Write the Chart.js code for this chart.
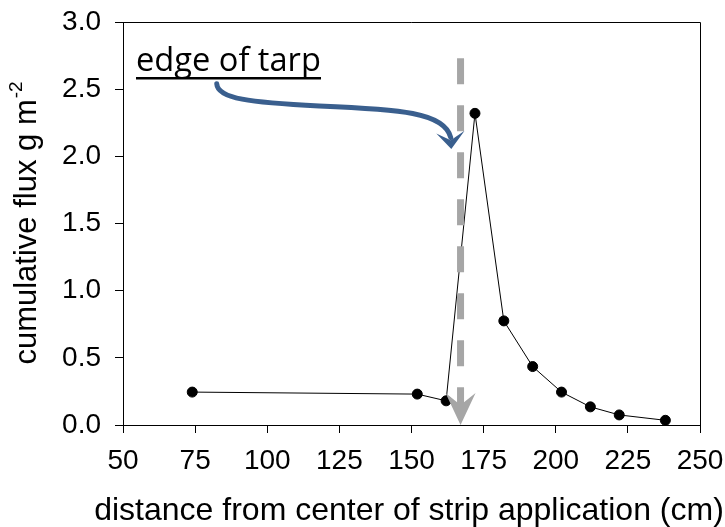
<!DOCTYPE html>
<html>
<head>
<meta charset="utf-8">
<script src="https://cdn.jsdelivr.net/npm/chart.js@4/dist/chart.umd.min.js"></script>
<style>
  html, body { margin: 0; padding: 0; background: #fff; }
  #wrap { width: 725px; height: 527px; position: relative; }
</style>
</head>
<body>
<div id="wrap"><canvas id="chart"></canvas></div>
<script>
// Data
const distances = [74, 152, 162, 172, 182, 192, 202, 212, 222, 238];
const fluxValues = [0.245, 0.23, 0.18, 2.32, 0.775, 0.435, 0.245, 0.135, 0.075, 0.035];
const xTicks = [50, 75, 100, 125, 150, 175, 200, 225, 250];
const yTicks = [0, 0.5, 1.0, 1.5, 2.0, 2.5, 3.0];

// Annotation anchors (data units)
const tarpEdge = 167;
const tarpLineTop = 2.73;
const labelText = 'edge of tarp';
const xTitle = 'distance from center of strip application (cm)';
const yTitle = 'cumulative flux g m';
const yTitleSup = '-2';

const FONT = '"Liberation Sans", Arial, sans-serif';

// Annotation plugin: box, axis titles, dashed tarp line, curved label arrow
const annotate = {
  id: 'annotate',
  afterDraw(chart) {
    const { ctx, chartArea: a, scales: { x, y } } = chart;
    const px = v => x.getPixelForValue(v);
    const py = v => y.getPixelForValue(v);
    ctx.save();

    // top and right border
    ctx.strokeStyle = '#000';
    ctx.lineWidth = 1;
    ctx.beginPath();
    ctx.moveTo(a.left, a.top + 0.5);
    ctx.lineTo(a.right + 0.5, a.top + 0.5);
    ctx.lineTo(a.right + 0.5, a.bottom);
    ctx.stroke();

    // gray dashed line with arrowhead
    const gx = px(tarpEdge);
    const headTop = a.bottom - 32;
    ctx.strokeStyle = '#a6a6a6';
    ctx.lineWidth = 7;
    ctx.setLineDash([26, 21]);
    ctx.beginPath();
    ctx.moveTo(gx, py(tarpLineTop));
    ctx.lineTo(gx, headTop + 12);
    ctx.stroke();
    ctx.setLineDash([]);
    ctx.fillStyle = '#a6a6a6';
    ctx.beginPath();
    ctx.moveTo(gx - 15, headTop);
    ctx.lineTo(gx, a.bottom);
    ctx.lineTo(gx + 15, headTop);
    ctx.lineTo(gx, headTop + 12);
    ctx.closePath();
    ctx.fill();

    // blue curved arrow
    ctx.strokeStyle = '#3a5f8e';
    ctx.fillStyle = '#3a5f8e';
    ctx.lineWidth = 5;
    ctx.lineCap = 'round';
    ctx.beginPath();
    ctx.moveTo(px(82.5), py(2.54));
    ctx.bezierCurveTo(px(82.8), py(2.43), px(93.9), py(2.40), px(118), py(2.375));
    ctx.bezierCurveTo(px(145.7), py(2.35), px(161.5), py(2.33), px(163.6), py(2.14));
    ctx.stroke();
    ctx.beginPath();
    ctx.moveTo(px(158.6), py(2.17));
    ctx.lineTo(px(163.8), py(2.055));
    ctx.lineTo(px(168.4), py(2.19));
    ctx.lineTo(px(163.6), py(2.12));
    ctx.closePath();
    ctx.fill();

    // label with underline, fitted to ~185px wide
    let size = 32;
    ctx.font = size + 'px "Open Sans", sans-serif';
    const w = ctx.measureText(labelText).width;
    size = size * 185 / w;
    ctx.font = size + 'px "Open Sans", sans-serif';
    ctx.fillStyle = '#000';
    ctx.textAlign = 'left';
    ctx.textBaseline = 'alphabetic';
    const lx = 136, ly = 71;
    ctx.fillText(labelText, lx, ly);
    ctx.fillRect(lx, ly + 6, 185, 2.5);

    // x title
    ctx.font = '32px ' + FONT;
    ctx.textAlign = 'center';
    ctx.fillText(xTitle, 409, 520);

    // y title, rotated, with superscript
    ctx.translate(36, (a.top + a.bottom) / 2);
    ctx.rotate(-Math.PI / 2);
    ctx.font = '31px ' + FONT;
    const mw = ctx.measureText(yTitle).width;
    ctx.font = '19px ' + FONT;
    const sw = ctx.measureText(yTitleSup).width;
    const start = -(mw + sw) / 2;
    ctx.textAlign = 'left';
    ctx.font = '31px ' + FONT;
    ctx.fillText(yTitle, start, 0);
    ctx.font = '19px ' + FONT;
    ctx.fillText(yTitleSup, start + mw + 1, -14);

    ctx.restore();
  }
};

new Chart(document.getElementById('chart'), {
  type: 'scatter',
  data: {
    datasets: [{
      data: distances.map((d, i) => ({ x: d, y: fluxValues[i] })),
      showLine: true,
      borderColor: '#000',
      borderWidth: 1,
      backgroundColor: '#000',
      pointRadius: 5,
      pointHoverRadius: 5,
      tension: 0
    }]
  },
  options: {
    responsive: true,
    maintainAspectRatio: false,
    animation: false,
    events: [],
    layout: { padding: { top: 22, right: 25, left: 0, bottom: 0 } },
    plugins: { legend: { display: false }, tooltip: { enabled: false } },
    scales: {
      x: {
        type: 'linear',
        min: 50,
        max: 250,
        afterBuildTicks: s => { s.ticks = xTicks.map(v => ({ value: v })); },
        afterFit: s => { s.height = 102; s.paddingLeft = 0; s.paddingRight = 0; },
        ticks: { color: '#000', font: { family: FONT, size: 28 }, padding: 11, maxRotation: 0 },
        grid: { drawOnChartArea: false, color: '#000', tickLength: 8 },
        border: { color: '#000', width: 1 }
      },
      y: {
        min: 0,
        max: 3,
        afterBuildTicks: s => { s.ticks = yTicks.map(v => ({ value: v })); },
        afterFit: s => { s.width = 123; s.paddingTop = 0; s.paddingBottom = 0; },
        ticks: { color: '#000', font: { family: FONT, size: 28 }, padding: 14, callback: v => v.toFixed(1) },
        grid: { drawOnChartArea: false, color: '#000', tickLength: 8 },
        border: { color: '#000', width: 1 }
      }
    }
  },
  plugins: [annotate]
});
</script>
</body>
</html>
